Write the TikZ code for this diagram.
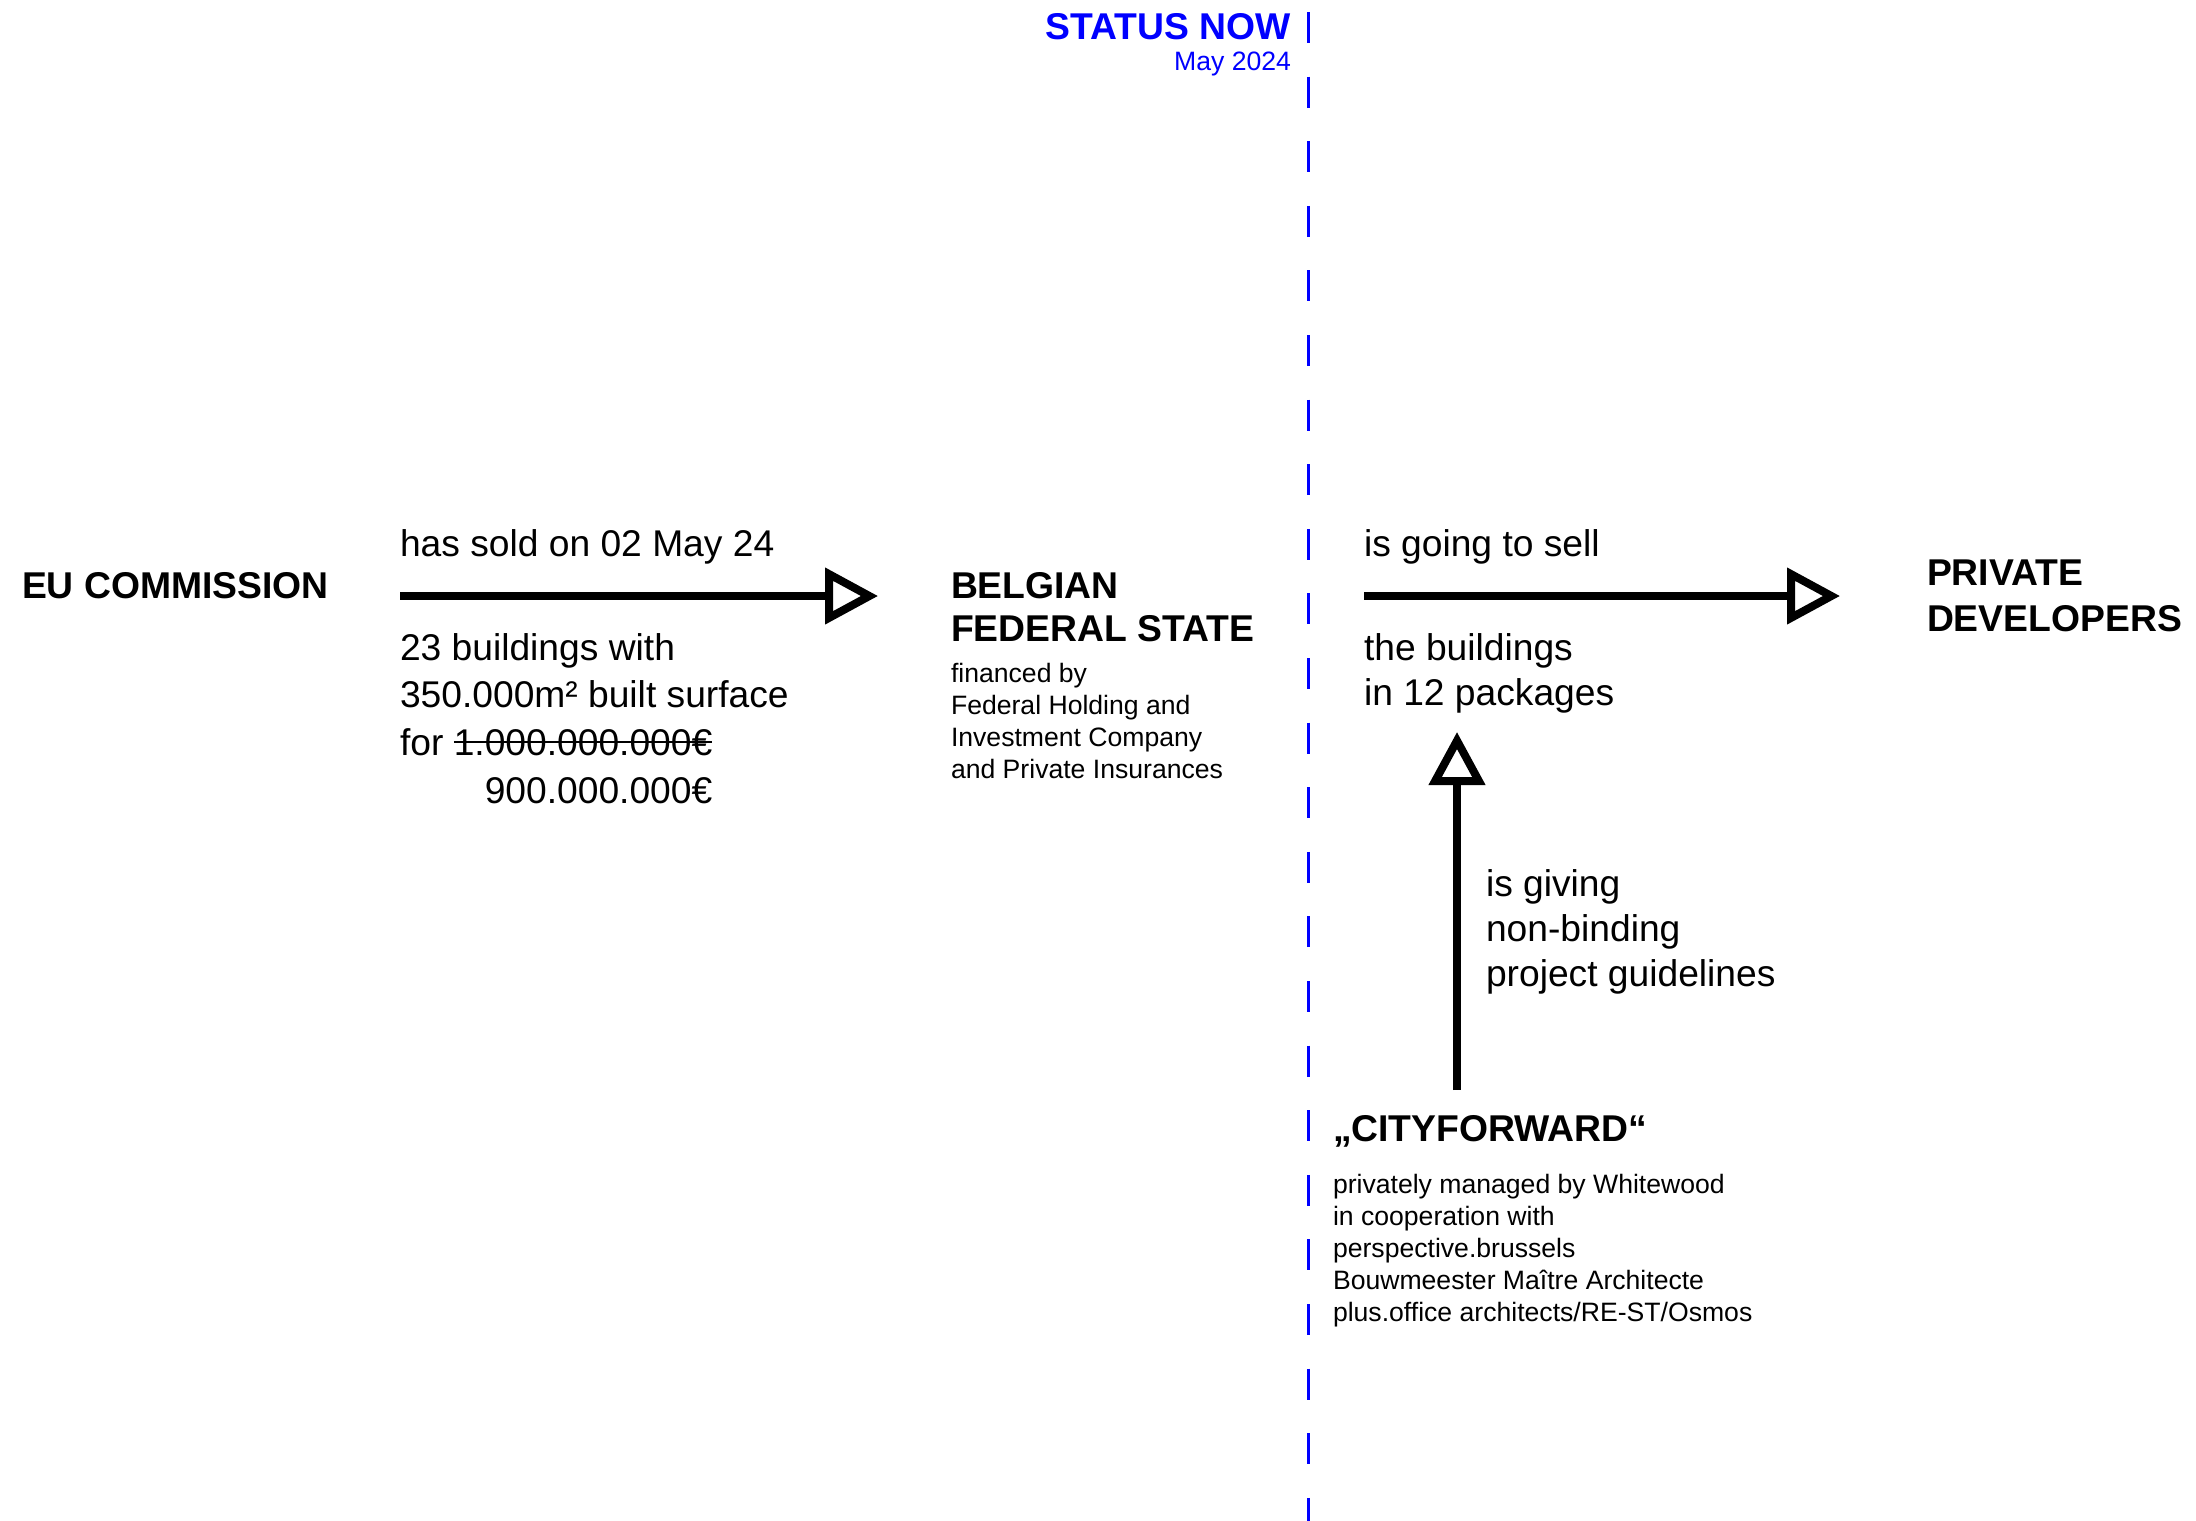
\documentclass[tikz,border=0pt]{standalone}
\usepackage{fontspec}
\setmainfont{Liberation Sans}
\usetikzlibrary{arrows.meta}
\definecolor{nowblue}{RGB}{0,0,255}
\newcommand\mystrike[1]{\setbox0=\hbox{#1}\rlap{\rule[12pt]{\wd0}{2.4pt}}\box0}
\tikzset{
  txt/.style={inner sep=0pt, outer sep=0pt, anchor=base west, align=left},
  head/.style={txt, font={\bfseries\fontsize{37.3}{43}\selectfont}},
  lbl/.style={txt, font={\fontsize{37.2}{47.6}\selectfont}},
  small/.style={txt, font={\fontsize{26.6}{32}\selectfont}},
  bigarrow/.style={line width=8pt, -{Triangle[open, length=53pt, width=55pt]}},
  nowline/.style={nowblue, line width=3pt, dash pattern=on 31pt off 33.6pt}
}
\begin{document}
\begin{tikzpicture}[x=1pt, y=-1pt]
\useasboundingbox (0,0) rectangle (2196,1521);
% status line
\coordinate (ltop) at (1308,12);
\coordinate (lbot) at (1308,1521);
\draw[nowline] (ltop) -- (lbot);
\node[head, anchor=base east, text=nowblue] (status) at (1291,39) {STATUS NOW};
\node[small, anchor=base east, text=nowblue] (may) at (1291,70) {May 2024};
% EU commission (multi-line nodes: base = last line's baseline)
\node[head] (eu) at (22,598) {EU COMMISSION};
\node[lbl] (sold) at (400,556) {has sold on 02 May 24};
\node[lbl] (deal) at (400,803) {23 buildings with\\350.000m² built surface\\for \mystrike{1.000.000.000€}\\\hphantom{for 1.}900.000.000€};
\coordinate (a1s) at (400,596);
\coordinate (a1e) at (878,596);
\draw[bigarrow] (a1s) -- (a1e);
% Belgian federal state
\node[head] (bfs) at (951,641) {BELGIAN\\FEDERAL STATE};
\node[small, font={\fontsize{26.6}{31.7}\selectfont}] (fin) at (951,778) {financed by\\Federal Holding and\\Investment Company\\and Private Insurances};
% going to sell
\node[lbl] (sell) at (1364,556) {is going to sell};
\node[lbl, font={\fontsize{37.2}{45}\selectfont}] (pack) at (1364,705) {the buildings\\in 12 packages};
\coordinate (a2s) at (1364,596);
\coordinate (a2e) at (1840,596);
\draw[bigarrow] (a2s) -- (a2e);
\node[head, font={\bfseries\fontsize{37.3}{46}\selectfont}] (pd) at (1927,631) {PRIVATE\\DEVELOPERS};
% cityforward
\node[head] (cf) at (1333,1141) {„CITYFORWARD“};
\node[small] (pm) at (1333,1321) {privately managed by Whitewood\\in cooperation with\\perspective.brussels\\Bouwmeester Maître Architecte\\plus.office architects/RE-ST/Osmos};
\node[lbl, font={\fontsize{37.2}{45}\selectfont}] (give) at (1486,986) {is giving\\non-binding\\project guidelines};
\coordinate (a3s) at (1457,1090);
\coordinate (a3e) at (1457,732);
\draw[bigarrow] (a3s) -- (a3e);
\end{tikzpicture}
\end{document}
